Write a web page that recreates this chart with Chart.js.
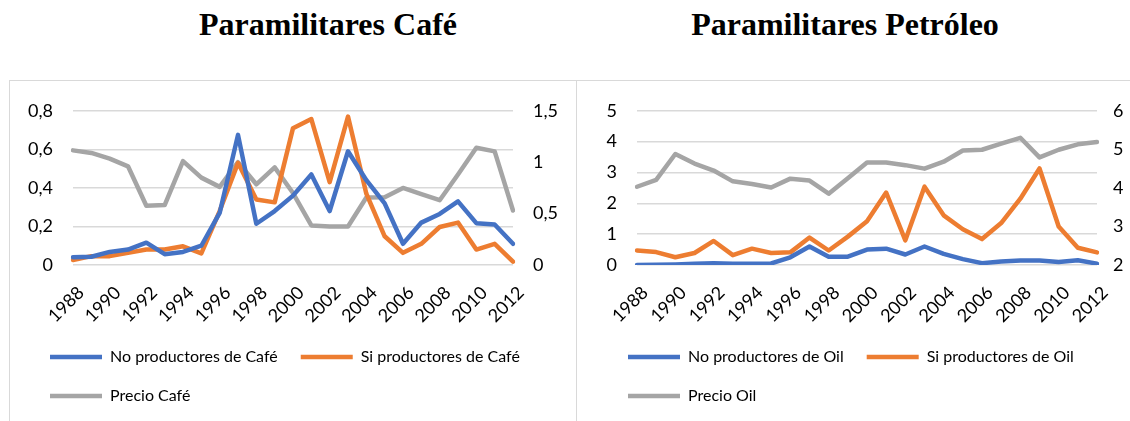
<!DOCTYPE html>
<html>
<head>
<meta charset="utf-8">
<script src="https://cdn.jsdelivr.net/npm/chart.js@4/dist/chart.umd.min.js"></script>
<style>
body { margin: 0; width: 1130px; height: 421px; background: #fff; position: relative; overflow: hidden; }
.title { position: absolute; top: 8px; font: bold 32px/32px "Liberation Serif", "Times New Roman", serif; color: #000; white-space: nowrap; transform: translateX(-50%); }
.hline { position: absolute; top: 80px; left: 9px; width: 1121px; height: 1px; background: #d9d9d9; }
.vline { position: absolute; top: 80px; width: 1px; height: 341px; background: #d9d9d9; }
canvas { position: absolute; top: 80px; }
</style>
</head>
<body>
<div class="title" style="left:328px">Paramilitares Café</div>
<div class="title" style="left:845px">Paramilitares Petróleo</div>
<div class="hline"></div>
<div class="vline" style="left:9px"></div>
<div class="vline" style="left:576px"></div>
<canvas id="cafe" width="567" height="341" style="left:9px"></canvas>
<canvas id="oil" width="553" height="341" style="left:577px"></canvas>
<script>
// años 1988-2012
const years = ['1988','1989','1990','1991','1992','1993','1994','1995','1996','1997','1998','1999','2000',
               '2001','2002','2003','2004','2005','2006','2007','2008','2009','2010','2011','2012'];

// Café
const cafeNo = [0.04, 0.043, 0.068, 0.08, 0.116, 0.056, 0.068, 0.10, 0.27, 0.675, 0.214, 0.28, 0.36,
                0.47, 0.28, 0.59, 0.44, 0.32, 0.11, 0.22, 0.265, 0.33, 0.217, 0.21, 0.11];
const cafeSi = [0.026, 0.046, 0.046, 0.063, 0.08, 0.08, 0.097, 0.06, 0.28, 0.53, 0.34, 0.325, 0.71,
                0.757, 0.43, 0.77, 0.37, 0.149, 0.063, 0.11, 0.197, 0.22, 0.08, 0.11, 0.017];
const cafePrecio = [1.115, 1.09, 1.035, 0.96, 0.577, 0.583, 1.01, 0.85, 0.76, 1.0, 0.785, 0.95, 0.70,
                    0.385, 0.375, 0.375, 0.657, 0.66, 0.75, 0.69, 0.63, 0.88, 1.14, 1.105, 0.53];
const cafeLeftTicks = ['0', '0,2', '0,4', '0,6', '0,8'];
const cafeRightTicks = ['0', '0,5', '1', '1,5'];

// Petróleo
const oilNo = [0, 0.01, 0.02, 0.04, 0.06, 0.04, 0.04, 0.05, 0.25, 0.6, 0.27, 0.27, 0.5,
               0.53, 0.34, 0.6, 0.36, 0.19, 0.06, 0.11, 0.145, 0.145, 0.1, 0.155, 0.045];
const oilSi = [0.47, 0.42, 0.25, 0.39, 0.78, 0.32, 0.53, 0.39, 0.41, 0.89, 0.47, 0.92, 1.42,
               2.35, 0.8, 2.54, 1.61, 1.16, 0.84, 1.36, 2.15, 3.13, 1.25, 0.56, 0.41];
const oilPrecio = [4.03, 4.21, 4.88, 4.63, 4.45, 4.17, 4.1, 4.01, 4.24, 4.19, 3.85, 4.25, 4.66,
                   4.66, 4.59, 4.5, 4.68, 4.97, 4.99, 5.15, 5.3, 4.79, 4.99, 5.13, 5.19];
const oilLeftTicks = ['0', '1', '2', '3', '4', '5'];
const oilRightTicks = ['2', '3', '4', '5', '6'];

const BLUE = '#4472C4', ORANGE = '#ED7D31', GREY = '#A5A5A5';
const FONT = 'Lato';

function lineSet(label, data, color, axis) {
    return {
        label: label,
        data: data,
        borderColor: color,
        backgroundColor: color,
        borderWidth: 4.5,
        pointRadius: 0,
        tension: 0,
        borderJoinStyle: 'round',
        borderCapStyle: 'round',
        yAxisID: axis
    };
}

function renderChart(canvasId, datasets, y, y1, pad) {
    new Chart(document.getElementById(canvasId), {
        type: 'line',
        data: { labels: years, datasets: datasets },
        options: {
            responsive: false,
            animation: false,
            devicePixelRatio: 1,
            layout: { padding: { left: pad.left, right: pad.right, top: 29, bottom: 7 } },
            plugins: {
                tooltip: { enabled: false },
                legend: {
                    position: 'bottom',
                    align: 'start',
                    labels: {
                        usePointStyle: true,
                        pointStyle: 'line',
                        pointStyleWidth: 52,
                        padding: 23,
                        color: '#000',
                        font: { family: FONT, size: 16 }
                    }
                }
            },
            scales: {
                x: {
                    grid: { display: false, drawTicks: false },
                    border: { display: false },
                    ticks: {
                        autoSkip: false, minRotation: 45, maxRotation: 45,
                        padding: 17, labelOffset: 8,
                        color: '#000', font: { family: FONT, size: 18 },
                        callback: (v, i) => i % 2 === 0 ? years[i] : ''
                    },
                    afterFit: s => { s.height = 61; }
                },
                y: {
                    position: 'left', min: y.min, max: y.max,
                    grid: { color: '#d9d9d9', lineWidth: 1.5, drawTicks: false },
                    border: { display: false },
                    ticks: {
                        stepSize: y.step, padding: 20, color: '#000', font: { family: FONT, size: 18 },
                        callback: (v, i) => y.labels[i]
                    },
                    afterFit: s => { s.width = pad.yw; }
                },
                y1: {
                    position: 'right', min: y1.min, max: y1.max,
                    grid: { display: false, drawTicks: false },
                    border: { display: false },
                    ticks: {
                        stepSize: y1.step, padding: pad.y1pad, color: '#000', font: { family: FONT, size: 18 },
                        callback: (v, i) => y1.labels[i]
                    },
                    afterFit: s => { s.width = pad.y1w; }
                }
            }
        }
    });
}

renderChart('cafe', [
    lineSet('No productores de Café', cafeNo, BLUE, 'y'),
    lineSet('Si productores de Café', cafeSi, ORANGE, 'y'),
    lineSet('Precio Café', cafePrecio, GREY, 'y1')
], { min: 0, max: 0.8, step: 0.2, labels: cafeLeftTicks },
   { min: 0, max: 1.5, step: 0.5, labels: cafeRightTicks },
   { left: 18, right: 10, yw: 46, y1w: 53, y1pad: 20 });

renderChart('oil', [
    lineSet('No productores de Oil', oilNo, BLUE, 'y'),
    lineSet('Si productores de Oil', oilSi, ORANGE, 'y'),
    lineSet('Precio Oil', oilPrecio, GREY, 'y1')
], { min: 0, max: 5, step: 1, labels: oilLeftTicks },
   { min: 2, max: 6, step: 1, labels: oilRightTicks },
   { left: 28, right: 4, yw: 32, y1w: 29, y1pad: 16 });
</script>
</body>
</html>
